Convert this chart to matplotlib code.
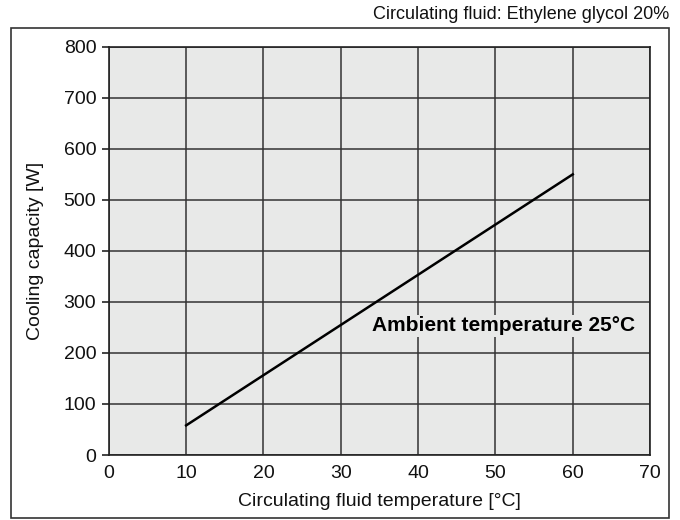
import matplotlib
matplotlib.use("Agg")
import matplotlib.pyplot as plt
from matplotlib.patches import Rectangle

plt.rcParams['font.family'] = ['Liberation Sans', 'DejaVu Sans']

# data
fluid_temp = [10, 60]          # °C
cooling_capacity = [58, 550]   # W

x_ticks = [0, 10, 20, 30, 40, 50, 60, 70]
y_ticks = [0, 100, 200, 300, 400, 500, 600, 700, 800]

fig = plt.figure(figsize=(6.8, 5.2), dpi=100)
ax = fig.add_axes([0.160, 0.125, 0.796, 0.785])

ax.set_facecolor('#e8e9e8')
ax.plot(fluid_temp, cooling_capacity, color='black', lw=1.8, zorder=3)

ax.set_xlim(0, 70)
ax.set_ylim(0, 800)
ax.set_xticks(x_ticks)
ax.set_yticks(y_ticks)
ax.grid(True, color='#333333', lw=1.1, zorder=1)
ax.set_axisbelow(True)
ax.tick_params(axis='x', length=0, pad=7, labelsize=14, colors='#111111')
ax.tick_params(axis='y', length=5, width=1.1, pad=4, labelsize=14, colors='#111111')
for s in ax.spines.values():
    s.set_color('#222222')
    s.set_linewidth(1.2)

ax.set_xlabel('Circulating fluid temperature [°C]', fontsize=14, color='#111111', labelpad=8)
ax.set_ylabel('Cooling capacity [W]', fontsize=14, color='#111111', labelpad=14)

ax.text(51, 253, 'Ambient temperature 25°C', fontsize=15, fontweight='bold',
        ha='center', va='center', zorder=4,
        bbox=dict(facecolor='#e8e9e8', edgecolor='none', pad=1))

# outer frame and note above it
fig.patches.append(Rectangle((0.016, 0.004), 0.968, 0.942, transform=fig.transFigure,
                             fill=False, edgecolor='#333333', lw=1.2))
fig.text(0.984, 0.973, 'Circulating fluid: Ethylene glycol 20%', fontsize=13,
         ha='right', va='center', color='#111111')

fig.savefig('out.png', dpi=100)
